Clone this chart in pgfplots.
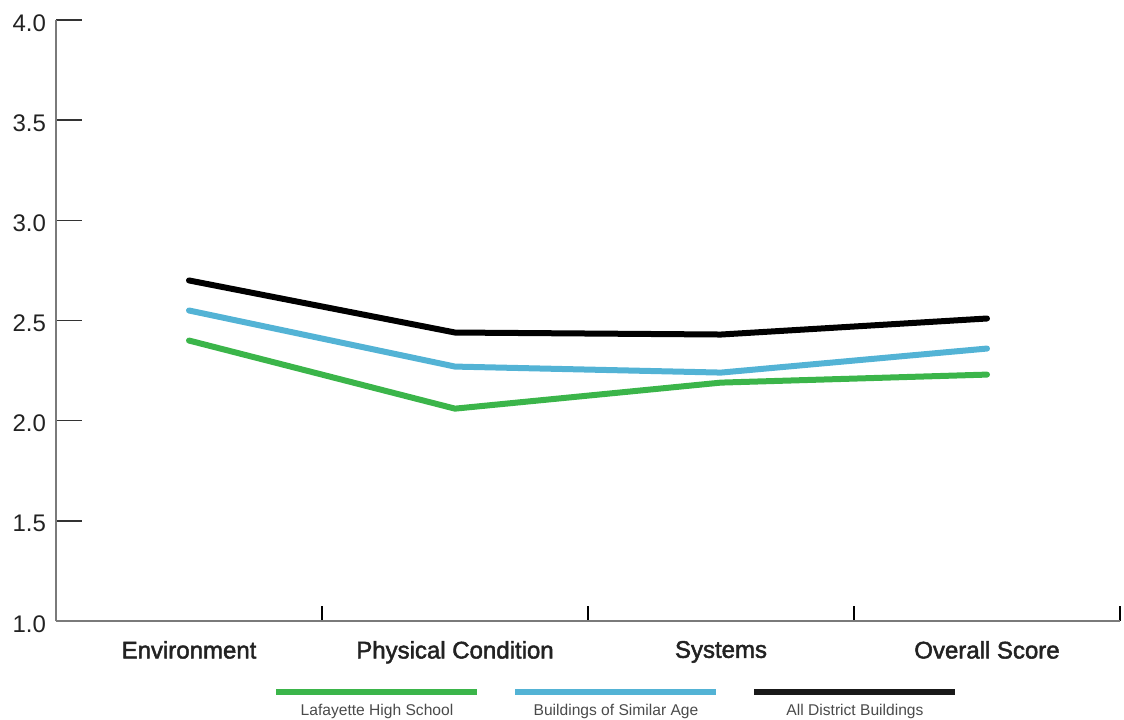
\documentclass[border=0pt]{standalone}
\usepackage{pgfplots}
\pgfplotsset{compat=1.18}
\usepackage{fontspec}
\setmainfont{Liberation Sans}
\newfontfamily\medfont[FakeBold=2]{Liberation Sans}
\definecolor{cgreen}{HTML}{3BB54A}
\definecolor{cblue}{HTML}{53B3D5}
\definecolor{axgray}{HTML}{7A7A7A}
\definecolor{txt}{HTML}{222222}
\definecolor{legtxt}{HTML}{4A4A4A}
\begin{document}
\begin{tikzpicture}
\begin{axis}[
  at={(0,0)}, anchor=south west,
  scale only axis, width=532pt, height=300.5pt,
  xmin=-0.5, xmax=3.5, ymin=1, ymax=4,
  axis x line*=bottom, axis y line*=left,
  axis line style={-, axgray, line width=0.75pt},
  tick align=inside,
  major tick length=13pt,
  minor tick length=7.5pt,
  ytick={1,1.5,2,2.5,3,3.5,4},
  y tick style={black!80, line width=0.75pt},
  yticklabel style={font=\fontsize{12}{14}\selectfont, text=txt, yshift=-1.5pt, xshift=-1.5pt,
    /pgf/number format/.cd, fixed, fixed zerofill, precision=1, assume math mode=true},
  xtick={0,1,2,3},
  xticklabels={Environment, Physical Condition, Systems, Overall Score},
  major x tick style={draw=none},
  minor xtick={0.5,1.5,2.5,3.5},
  minor x tick style={black, line width=0.6pt},
  xticklabel style={font=\medfont\fontsize{12}{14}\selectfont, text=txt, yshift=-6.5pt},
  legend style={at={(axis description cs:0.5263,-0.095)}, anchor=north, draw=none,
    fill=none, inner sep=0pt, legend columns=3,
    /tikz/every even column/.append style={column sep=15pt},
    font=\fontsize{7.8}{9}\selectfont, text=legtxt},
  legend image code/.code={},
]
\addplot[cgreen, line width=3pt, line cap=round, line join=round] coordinates {(0,2.40) (1,2.06) (2,2.19) (3,2.23)};
\addlegendentry{\begin{tabular}{@{}c@{}}\textcolor{cgreen}{\rule{100.5pt}{3pt}}\\[1pt] Lafayette High School\end{tabular}}
\addplot[cblue, line width=3pt, line cap=round, line join=round] coordinates {(0,2.55) (1,2.27) (2,2.24) (3,2.36)};
\addlegendentry{\begin{tabular}{@{}c@{}}\textcolor{cblue}{\rule{100.5pt}{3pt}}\\[1pt] Buildings of Similar Age\end{tabular}}
\addplot[black, line width=3pt, line cap=round, line join=round] coordinates {(0,2.70) (1,2.44) (2,2.43) (3,2.51)};
\addlegendentry{\begin{tabular}{@{}c@{}}\textcolor{black!90}{\rule{100.5pt}{3pt}}\\[1pt] All District Buildings\end{tabular}}
\end{axis}
\pgfresetboundingbox
\path[use as bounding box] (-28pt,-49pt) rectangle (534pt,310.5pt);
\end{tikzpicture}
\end{document}
